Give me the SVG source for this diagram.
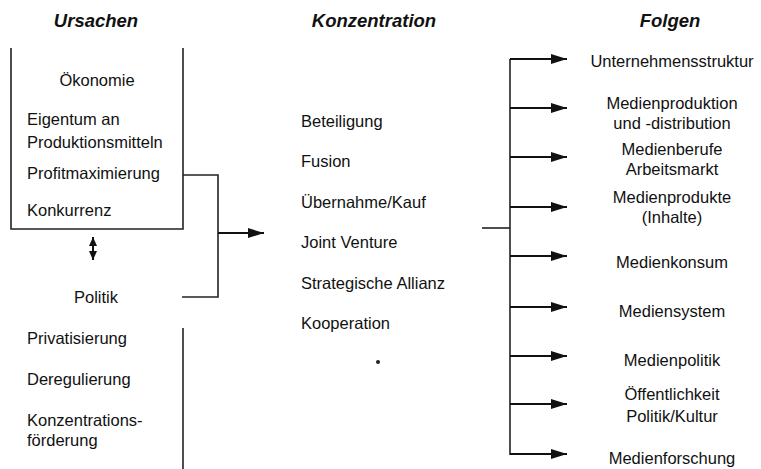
<svg xmlns="http://www.w3.org/2000/svg" width="761" height="469" viewBox="0 0 761 469">
<defs>
<marker id="ah" markerWidth="16" markerHeight="10" refX="16" refY="5" orient="auto" markerUnits="userSpaceOnUse">
<path d="M0,0 L16,5 L0,10 Z" fill="#111"/>
</marker>
<marker id="ahs" markerWidth="10" markerHeight="8" refX="9" refY="4" orient="auto-start-reverse" markerUnits="userSpaceOnUse">
<path d="M0,0 L9,4 L0,8 Z" fill="#111"/>
</marker>
</defs>
<style>
text{font-family:"Liberation Sans",Arial,sans-serif;font-size:16.5px;fill:#111}
.h{font-weight:bold;font-style:italic;font-size:18.5px}
.c{text-anchor:middle}
.ln{stroke:#222;stroke-width:1.6;fill:none}
.ar{stroke:#111;stroke-width:2;fill:none}
</style>
<rect width="761" height="469" fill="#fff"/>
<g id="headings">
<text class="h c" x="96" y="27">Ursachen</text>
<text class="h c" x="374" y="27">Konzentration</text>
<text class="h c" x="670" y="27">Folgen</text>
</g>
<g id="oekonomie">
<path class="ln" d="M11,48 V229 H183 V48"/>
<text class="c" x="97" y="86">Ökonomie</text>
<text x="27" y="125">Eigentum an</text>
<text x="27" y="148">Produktionsmitteln</text>
<text x="27" y="179">Profitmaximierung</text>
<text x="27" y="216">Konkurrenz</text>
</g>
<g id="politik">
<text x="74" y="303">Politik</text>
<text x="27" y="344">Privatisierung</text>
<text x="27" y="385">Deregulierung</text>
<text x="27" y="426">Konzentrations-</text>
<text x="27" y="446">förderung</text>
<path class="ln" d="M183,328 V469"/>
</g>
<g id="konzentration">
<text x="301" y="127">Beteiligung</text>
<text x="301" y="167">Fusion</text>
<text x="301" y="208">Übernahme/Kauf</text>
<text x="301" y="248">Joint Venture</text>
<text x="301" y="289">Strategische Allianz</text>
<text x="301" y="329">Kooperation</text>
<circle cx="378" cy="362" r="2" fill="#222"/>
</g>
<g id="folgen">
<text class="c" x="672" y="67">Unternehmensstruktur</text>
<text class="c" x="672" y="109">Medienproduktion</text>
<text class="c" x="672" y="129">und -distribution</text>
<text class="c" x="672" y="155">Medienberufe</text>
<text class="c" x="672" y="175">Arbeitsmarkt</text>
<text class="c" x="672" y="203">Medienprodukte</text>
<text class="c" x="672" y="223">(Inhalte)</text>
<text class="c" x="672" y="268">Medienkonsum</text>
<text class="c" x="672" y="317">Mediensystem</text>
<text class="c" x="672" y="366">Medienpolitik</text>
<text class="c" x="672" y="400">Öffentlichkeit</text>
<text class="c" x="672" y="422">Politik/Kultur</text>
<text class="c" x="672" y="464">Medienforschung</text>
</g>
<g id="connectors">
<path class="ln" d="M183,175 H218 V297 H182"/>
<path class="ar" d="M218,233 H264" marker-end="url(#ah)"/>
<path class="ar" d="M93,237 V260" marker-start="url(#ahs)" marker-end="url(#ahs)"/>
<path class="ln" d="M482,228 H510"/>
<path class="ln" d="M510,59 V455"/>
<path class="ar" d="M510,59 H567" marker-end="url(#ah)"/>
<path class="ar" d="M510,108 H567" marker-end="url(#ah)"/>
<path class="ar" d="M510,157 H567" marker-end="url(#ah)"/>
<path class="ar" d="M510,207 H567" marker-end="url(#ah)"/>
<path class="ar" d="M510,256 H567" marker-end="url(#ah)"/>
<path class="ar" d="M510,307 H567" marker-end="url(#ah)"/>
<path class="ar" d="M510,356 H567" marker-end="url(#ah)"/>
<path class="ar" d="M510,404 H567" marker-end="url(#ah)"/>
<path class="ar" d="M510,454 H567" marker-end="url(#ah)"/>
</g>
</svg>
